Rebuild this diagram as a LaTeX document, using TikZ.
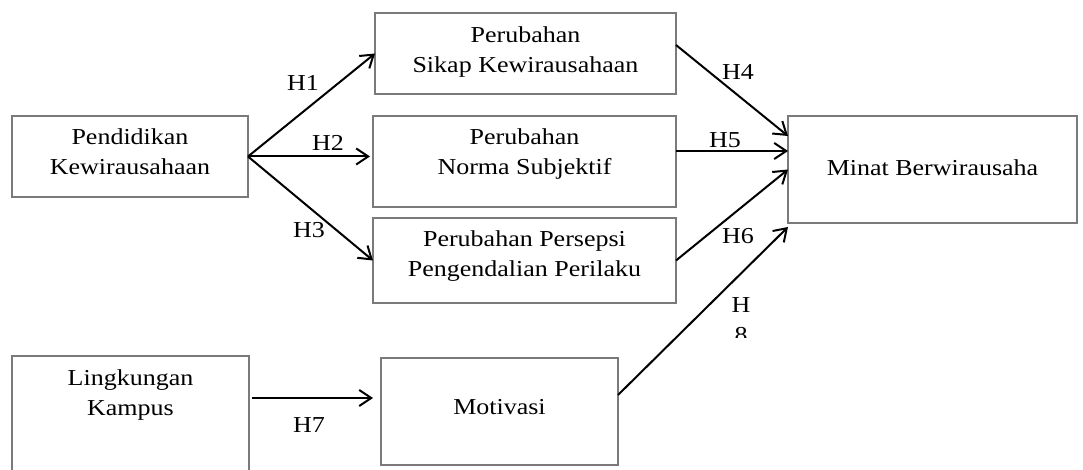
\documentclass[tikz,border=0pt]{standalone}
\usepackage{fontspec}
\setmainfont[FakeStretch=1.14]{Liberation Serif}
\usetikzlibrary{arrows.meta,calc}
\definecolor{boxgray}{HTML}{7A7A7A}
\tikzset{
  box/.style={draw=boxgray, line width=0.75pt, inner sep=0pt, outer sep=0pt},
  txt/.style={align=center, inner sep=0pt, font=\fontsize{11.4pt}{15pt}\selectfont},
  hyp/.style={inner sep=0pt, font=\fontsize{11.4pt}{15pt}\selectfont},
  link/.style={-{Straight Barb[length=6pt,width=8pt]}, line width=1pt}
}
\begin{document}
\begin{tikzpicture}[x=0.5pt,y=-0.5pt]
  \useasboundingbox (0,0) rectangle (1083,470);
  \clip (0,0) rectangle (1083,470);
  % boxes
  \node (pend) [box, minimum width=118pt, minimum height=40.5pt] at (130,156.5) {};
  \node (sikap) [box, minimum width=150.5pt, minimum height=40.5pt] at (525.5,53.5) {};
  \node (norma) [box, minimum width=151.5pt, minimum height=45.5pt] at (524.5,161.5) {};
  \node (persepsi) [box, minimum width=151.5pt, minimum height=42.5pt] at (524.5,260.5) {};
  \node (minat) [box, minimum width=144.5pt, minimum height=53.5pt] at (932.5,169.5) {};
  \node (lingk) [box, minimum width=118.5pt, minimum height=82pt] at (130.5,438) {};
  \node (motiv) [box, minimum width=118.5pt, minimum height=53.5pt] at (499.5,411.5) {};
  % texts
  \node (pendT) [txt] at (130,152) {Pendidikan\\Kewirausahaan};
  \node (sikapT) [txt] at (525.5,52) {Perubahan\\Sikap Kewirausahaan};
  \node (normaT) [txt] at (524.5,154) {Perubahan\\Norma Subjektif};
  \node (persepsiT) [txt] at (524.5,256) {Perubahan Persepsi\\Pengendalian Perilaku};
  \node (minatT) [txt] at (932.5,168) {Minat Berwirausaha};
  \node (lingkT) [txt] at (130.5,395) {Lingkungan\\Kampus};
  \node (motivT) [txt] at (499.5,407) {Motivasi};
  % arrows
  \draw[link] (pend.east) -- (sikap.west);
  \draw[link, shorten >=1.5pt] (pend.east) -- (pend.east -| norma.west);
  \draw[link] (pend.east) -- (persepsi.west);
  \draw[link] ($(sikap.east)+(0,-8.5)$) -- ($(minat.west)+(0,-33.5)$);
  \draw[link] ($(norma.east)+(0,-10.5)$) -- ($(minat.west)+(0,-18.5)$);
  \draw[link] (persepsi.east) -- (minat.west);
  \draw[link, shorten >=4pt] ($(lingk.north east)+(3,42)$) -- ($(motiv.north west)+(0,40)$);
  \draw[link] ($(motiv.east)+(0,-16.5)$) -- ($(minat.south west)+(0,4)$);
  % labels
  \node (h1) [hyp] at (303,83) {H1};
  \node (h2) [hyp] at (328,143) {H2};
  \node (h3) [hyp] at (309,230) {H3};
  \node (h4) [hyp] at (738,72) {H4};
  \node (h5) [hyp] at (725,140) {H5};
  \node (h6) [hyp] at (738,236) {H6};
  \node (h7) [hyp] at (309,425) {H7};
  \begin{scope}
    \clip (700,280) rectangle (780,338);
    \node (h8) [txt] at (741,320.5) {H\\8};
  \end{scope}
\end{tikzpicture}
\end{document}
